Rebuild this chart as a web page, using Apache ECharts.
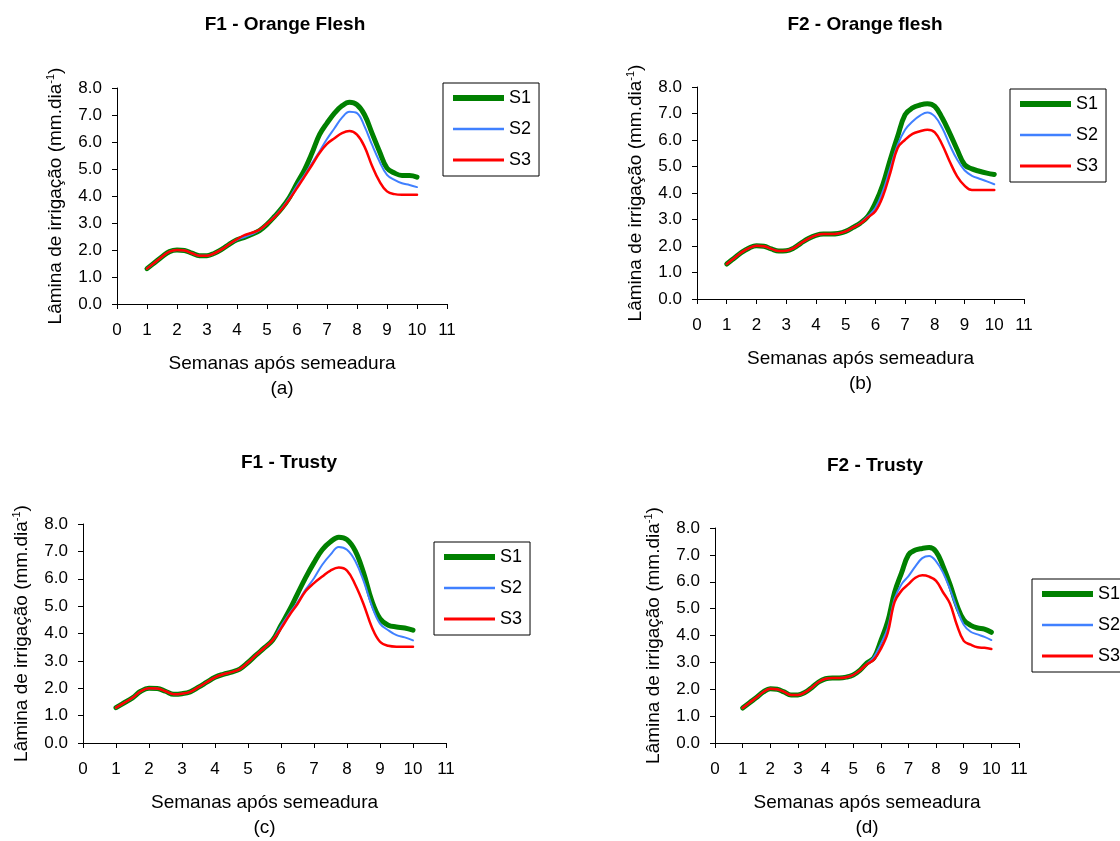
<!DOCTYPE html>
<html>
<head>
<meta charset="utf-8">
<script src="https://cdn.jsdelivr.net/npm/echarts@6/dist/echarts.min.js"></script>
<style>
  html, body { margin: 0; padding: 0; background: #fff; }
  #chart { width: 1120px; height: 841px; }
</style>
</head>
<body>
<div id="chart"></div>
<script>
// Weeks after sowing (x positions shared by every curve)
const weeks = [1, 1.25, 1.5, 1.75, 2, 2.25, 2.5, 2.75, 3, 3.25, 3.5, 3.75, 4, 4.25, 4.5, 4.75, 5, 5.25, 5.5, 5.75,
               6, 6.25, 6.5, 6.75, 7, 7.25, 7.5, 7.75, 8, 8.25, 8.5, 8.75, 9, 9.25, 9.5, 9.75, 10];

// Irrigation depth (mm/day) — F1, Orange Flesh
const orangeF1_S1 = [1.31, 1.53, 1.75, 1.94, 2.00, 1.98, 1.88, 1.79, 1.79, 1.88, 2.03, 2.22, 2.38, 2.47, 2.58, 2.72, 2.95, 3.24, 3.56, 3.95,
                     4.47, 4.97, 5.59, 6.27, 6.70, 7.07, 7.34, 7.47, 7.38, 7.01, 6.33, 5.65, 5.03, 4.85, 4.76, 4.76, 4.70];
const orangeF1_S2 = [1.31, 1.53, 1.75, 1.94, 2.00, 1.98, 1.88, 1.79, 1.79, 1.88, 2.03, 2.22, 2.38, 2.48, 2.59, 2.73, 2.96, 3.24, 3.55, 3.93,
                     4.38, 4.78, 5.22, 5.65, 6.11, 6.51, 6.90, 7.12, 7.07, 6.58, 5.90, 5.28, 4.78, 4.60, 4.47, 4.41, 4.33];
const orangeF1_S3 = [1.31, 1.53, 1.75, 1.94, 2.00, 1.98, 1.88, 1.79, 1.79, 1.88, 2.03, 2.22, 2.40, 2.55, 2.64, 2.75, 2.97, 3.22, 3.52, 3.88,
                     4.29, 4.72, 5.15, 5.59, 5.93, 6.14, 6.33, 6.41, 6.27, 5.83, 5.12, 4.54, 4.17, 4.07, 4.05, 4.05, 4.05];

// F2, Orange flesh
const orangeF2_S1 = [1.32, 1.54, 1.76, 1.92, 2.01, 1.99, 1.89, 1.81, 1.82, 1.92, 2.11, 2.28, 2.40, 2.45, 2.45, 2.47, 2.55, 2.70, 2.87,
                     3.12, 3.62, 4.31, 5.26, 6.14, 6.96, 7.21, 7.32, 7.37, 7.27, 6.83, 6.26, 5.64, 5.07, 4.91, 4.82, 4.75, 4.70];
const orangeF2_S2 = [1.32, 1.54, 1.76, 1.92, 2.01, 1.99, 1.89, 1.81, 1.82, 1.92, 2.11, 2.28, 2.40, 2.45, 2.45, 2.47, 2.55, 2.70, 2.87,
                     3.12, 3.43, 4.06, 4.94, 5.82, 6.39, 6.70, 6.92, 7.04, 6.89, 6.45, 5.82, 5.26, 4.86, 4.65, 4.54, 4.44, 4.33];
const orangeF2_S3 = [1.32, 1.54, 1.76, 1.92, 2.01, 1.99, 1.89, 1.81, 1.82, 1.92, 2.11, 2.28, 2.40, 2.45, 2.45, 2.47, 2.55, 2.70, 2.85,
                     3.08, 3.31, 3.87, 4.75, 5.70, 6.01, 6.23, 6.33, 6.39, 6.29, 5.82, 5.19, 4.63, 4.28, 4.11, 4.11, 4.11, 4.11];

// F1, Trusty
const trustyF1_S1 = [1.29, 1.47, 1.65, 1.89, 2.00, 1.99, 1.89, 1.78, 1.80, 1.87, 2.04, 2.22, 2.40, 2.51, 2.59, 2.70, 2.94, 3.22, 3.48, 3.76,
                     4.30, 4.84, 5.45, 6.05, 6.59, 7.06, 7.35, 7.52, 7.43, 7.02, 6.23, 5.20, 4.54, 4.30, 4.24, 4.20, 4.12];
const trustyF1_S2 = [1.29, 1.47, 1.65, 1.89, 2.00, 1.99, 1.89, 1.78, 1.80, 1.87, 2.04, 2.22, 2.40, 2.51, 2.59, 2.70, 2.94, 3.22, 3.48, 3.76,
                     4.27, 4.72, 5.14, 5.61, 6.02, 6.51, 6.88, 7.16, 7.06, 6.65, 5.93, 5.02, 4.36, 4.12, 3.94, 3.86, 3.75];
const trustyF1_S3 = [1.29, 1.47, 1.65, 1.89, 2.00, 1.99, 1.89, 1.78, 1.80, 1.87, 2.04, 2.22, 2.40, 2.51, 2.59, 2.70, 2.94, 3.22, 3.48, 3.76,
                     4.18, 4.66, 5.08, 5.55, 5.84, 6.08, 6.30, 6.41, 6.30, 5.78, 5.08, 4.24, 3.70, 3.55, 3.52, 3.52, 3.52];

// F2, Trusty
const trustyF2_S1 = [1.30, 1.50, 1.69, 1.90, 2.02, 2.00, 1.90, 1.79, 1.79, 1.88, 2.06, 2.27, 2.39, 2.42, 2.42, 2.45, 2.53, 2.71,
                     2.98, 3.17, 3.80, 4.52, 5.61, 6.33, 7.00, 7.18, 7.24, 7.27, 7.12, 6.58, 5.91, 5.13, 4.58, 4.38, 4.28, 4.24, 4.12];
const trustyF2_S2 = [1.30, 1.50, 1.69, 1.90, 2.02, 2.00, 1.90, 1.79, 1.79, 1.88, 2.06, 2.27, 2.39, 2.42, 2.42, 2.45, 2.53, 2.71,
                     2.95, 3.20, 3.68, 4.28, 5.37, 5.91, 6.21, 6.57, 6.88, 6.96, 6.76, 6.34, 5.73, 5.01, 4.40, 4.14, 4.04, 3.95, 3.83];
const trustyF2_S3 = [1.30, 1.50, 1.69, 1.90, 2.02, 2.00, 1.90, 1.79, 1.79, 1.88, 2.06, 2.27, 2.39, 2.42, 2.42, 2.45, 2.53, 2.71,
                     2.93, 3.10, 3.50, 4.10, 5.25, 5.67, 5.91, 6.15, 6.24, 6.19, 6.03, 5.61, 5.19, 4.40, 3.80, 3.66, 3.56, 3.54, 3.50];

const panelTitles = ['F1 - Orange Flesh', 'F2 - Orange flesh', 'F1 - Trusty', 'F2 - Trusty'];
const panelTags = ['(a)', '(b)', '(c)', '(d)'];
const seriesNames = ['S1', 'S2', 'S3'];
const xTicks = [0, 1, 2, 3, 4, 5, 6, 7, 8, 9, 10, 11];
const yTicks = [0, 1, 2, 3, 4, 5, 6, 7, 8];
const xAxisTitle = 'Semanas após semeadura';

const panelValues = [
  [orangeF1_S1, orangeF1_S2, orangeF1_S3],
  [orangeF2_S1, orangeF2_S2, orangeF2_S3],
  [trustyF1_S1, trustyF1_S2, trustyF1_S3],
  [trustyF2_S1, trustyF2_S2, trustyF2_S3]
];

// Placement of each of the four small plots
const layouts = [
  { grid: { left: 117, top: 88, width: 330, height: 216 }, title: [285, 25], legend: [443, 83] },
  { grid: { left: 697, top: 87, width: 327, height: 212 }, title: [865, 25], legend: [1010, 89] },
  { grid: { left: 83, top: 524, width: 363, height: 222 }, title: [289, 463], legend: [434, 542] },
  { grid: { left: 715, top: 528, width: 304, height: 220 }, title: [875, 466], legend: [1032, 579] }
];

const FONT = '"Liberation Sans", Arial, Helvetica, sans-serif';
const lineStyles = [
  { color: '#008000', width: 5 },
  { color: '#4080FF', width: 2 },
  { color: '#FF0000', width: 2.5 }
];
// Stroke widths of the sample lines inside the legend boxes
const legendWidths = [6, 2.5, 3];

const option = {
  animation: false,
  backgroundColor: '#fff',
  textStyle: { fontFamily: FONT, color: '#000' },
  title: [], legend: [], grid: [], xAxis: [], yAxis: [], series: []
};

layouts.forEach((lay, i) => {
  option.grid.push(Object.assign({ containLabel: false }, lay.grid));

  option.title.push({
    text: panelTitles[i],
    left: lay.title[0], top: lay.title[1],
    textAlign: 'center', textVerticalAlign: 'middle',
    padding: 0,
    textStyle: { fontFamily: FONT, fontSize: 19, fontWeight: 'bold', color: '#000' }
  });

  option.legend.push({
    orient: 'vertical',
    left: lay.legend[0], top: lay.legend[1],
    data: seriesNames.map((n, k) => ({
      name: n,
      itemStyle: { opacity: 0 },
      lineStyle: { width: legendWidths[k], color: lineStyles[k].color, opacity: 1, cap: 'butt' }
    })),
    selectedMode: false,
    itemWidth: 51, itemHeight: 14, itemGap: 13,
    padding: [6, 8, 7, 7],
    borderColor: '#000', borderWidth: 1,
    textStyle: { fontFamily: FONT, fontSize: 18, lineHeight: 18, color: '#000' }
  });

  option.xAxis.push({
    type: 'value', gridIndex: i,
    min: xTicks[0], max: xTicks[xTicks.length - 1], interval: 1,
    name: xAxisTitle + '\n' + panelTags[i],
    nameLocation: 'middle', nameGap: 47,
    nameTextStyle: { fontFamily: FONT, fontSize: 19, lineHeight: 25, color: '#000' },
    axisLine: { show: true, onZero: false, lineStyle: { color: '#000', width: 1 } },
    axisTick: { show: true, length: 5, lineStyle: { color: '#000', width: 1 } },
    axisLabel: { fontFamily: FONT, fontSize: 17, color: '#000', margin: 18 },
    splitLine: { show: false }
  });

  option.yAxis.push({
    type: 'value', gridIndex: i,
    min: yTicks[0], max: yTicks[yTicks.length - 1], interval: 1,
    name: '{n|Lâmina de irrigação (mm.dia}{s|-1}{n|)}',
    nameLocation: 'middle', nameRotate: 90, nameGap: 50,
    nameTextStyle: {
      fontFamily: FONT, fontSize: 19, color: '#000',
      rich: {
        n: { fontFamily: FONT, fontSize: 19, lineHeight: 22, color: '#000' },
        s: { fontFamily: FONT, fontSize: 11, lineHeight: 22, verticalAlign: 'top', color: '#000', padding: [0, 0, 10, 0] }
      }
    },
    axisLine: { show: true, onZero: false, lineStyle: { color: '#000', width: 1 } },
    axisTick: { show: true, length: 5, lineStyle: { color: '#000', width: 1 } },
    axisLabel: { fontFamily: FONT, fontSize: 17, color: '#000', margin: 15, formatter: v => v.toFixed(1) },
    splitLine: { show: false }
  });

  panelValues[i].forEach((vals, k) => {
    option.series.push({
      type: 'line',
      name: seriesNames[k],
      xAxisIndex: i, yAxisIndex: i,
      data: weeks.map((w, j) => [w, vals[j]]),
      smooth: 0.4,
      symbol: 'none',
      lineStyle: Object.assign({ cap: 'round', join: 'round' }, lineStyles[k]),
      itemStyle: { color: lineStyles[k].color },
      z: 2 + k
    });
  });
});

const chart = echarts.init(document.getElementById('chart'), null, { renderer: 'canvas' });
chart.setOption(option);
</script>
</body>
</html>
